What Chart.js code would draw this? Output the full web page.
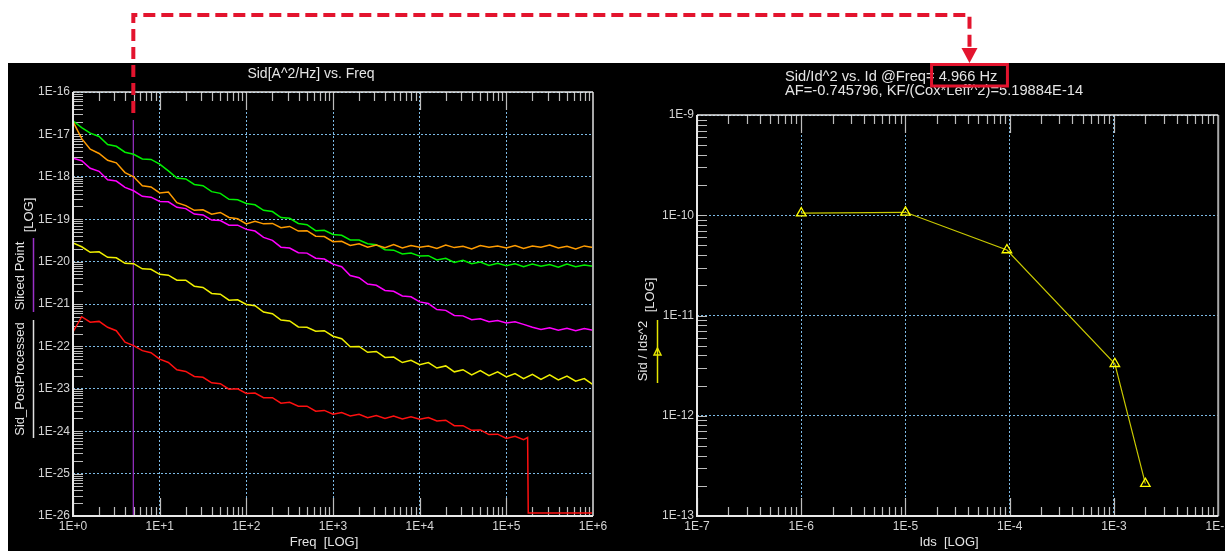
<html>
<head>
  <title>Sid vs Freq</title>
  <script src="https://cdn.jsdelivr.net/npm/chart.js"></script>
  <style>
    body { margin: 0; background: #fff; width: 1225px; height: 551px; position: relative; overflow: hidden; }
    #panel { position: absolute; left: 8px; top: 63px; width: 1217px; height: 488px; background: #000; }
    #leftChart { position: absolute; left: 8px; top: 63px; }
    #rightChart { position: absolute; left: 612px; top: 63px; }
    #overlay { position: absolute; left: 0; top: 0; pointer-events: none; }
  </style>
</head>
<body>
  <div id="panel"></div>
  <canvas id="leftChart" width="604" height="488"></canvas>
  <canvas id="rightChart" width="613" height="488"></canvas>
  <canvas id="overlay" width="1225" height="551"></canvas>

  <script>
// ---- data (spectra are log10 of Sid) ----
const freq = [1, 1.26, 1.58, 2, 2.51, 3.16, 3.98, 5.01, 6.31, 7.94,
  10, 12.6, 15.8, 20, 25.1, 31.6, 39.8, 50.1, 63.1, 79.4,
  100, 126, 158, 200, 251, 316, 398, 501, 631, 794,
  1000, 1260, 1580, 2000, 2510, 3160, 3980, 5010, 6310, 7940,
  1e4, 1.26e4, 1.58e4, 2e4, 2.51e4, 3.16e4, 3.98e4, 5.01e4, 6.31e4, 7.94e4,
  1e5, 1.26e5, 1.58e5, 2e5, 2.51e5, 3.16e5, 3.98e5, 5.01e5, 6.31e5, 7.94e5,
  1e6];

const greenExp = [-16.68, -16.84, -16.97, -17.05, -17.24, -17.28, -17.42, -17.47, -17.58, -17.59,
  -17.70, -17.86, -18.03, -18.05, -18.18, -18.21, -18.35, -18.39, -18.53, -18.54,
  -18.63, -18.66, -18.79, -18.82, -18.96, -18.98, -19.10, -19.13, -19.27, -19.26,
  -19.36, -19.38, -19.49, -19.49, -19.58, -19.60, -19.72, -19.73, -19.82, -19.80,
  -19.87, -19.86, -19.96, -19.92, -20.02, -19.97, -20.05, -20.01, -20.09, -20.04,
  -20.10, -20.05, -20.12, -20.06, -20.11, -20.07, -20.13, -20.06, -20.12, -20.08,
  -20.11];

const orangeExp = [-16.70, -17.10, -17.35, -17.45, -17.61, -17.67, -17.90, -18.00, -18.21, -18.24,
  -18.38, -18.36, -18.61, -18.68, -18.79, -18.78, -18.88, -18.84, -18.96, -18.99,
  -19.11, -19.05, -19.11, -19.10, -19.20, -19.17, -19.28, -19.27, -19.40, -19.41,
  -19.53, -19.52, -19.62, -19.58, -19.66, -19.61, -19.67, -19.60, -19.68, -19.62,
  -19.66, -19.63, -19.69, -19.61, -19.67, -19.64, -19.70, -19.62, -19.66, -19.63,
  -19.68, -19.62, -19.69, -19.63, -19.66, -19.61, -19.68, -19.64, -19.70, -19.63,
  -19.67];

const magentaExp = [-17.56, -17.62, -17.80, -17.87, -18.07, -18.10, -18.25, -18.33, -18.46, -18.48,
  -18.58, -18.59, -18.72, -18.75, -18.88, -18.90, -19.02, -19.03, -19.14, -19.14,
  -19.24, -19.28, -19.43, -19.50, -19.66, -19.68, -19.79, -19.80, -19.92, -19.94,
  -20.06, -20.12, -20.33, -20.38, -20.53, -20.56, -20.68, -20.70, -20.81, -20.83,
  -20.95, -20.99, -21.13, -21.15, -21.27, -21.28, -21.37, -21.35, -21.42, -21.39,
  -21.45, -21.42, -21.48, -21.55, -21.60, -21.56, -21.62, -21.57, -21.63, -21.58,
  -21.62];

const yellowExp = [-19.56, -19.65, -19.78, -19.77, -19.90, -19.91, -20.04, -20.05, -20.17, -20.18,
  -20.30, -20.32, -20.44, -20.44, -20.58, -20.61, -20.75, -20.77, -20.91, -20.90,
  -21.01, -21.04, -21.19, -21.23, -21.38, -21.40, -21.54, -21.55, -21.64, -21.63,
  -21.76, -21.82, -22.01, -22.00, -22.14, -22.12, -22.26, -22.25, -22.38, -22.33,
  -22.43, -22.38, -22.51, -22.46, -22.60, -22.55, -22.67, -22.57, -22.69, -22.60,
  -22.72, -22.64, -22.76, -22.66, -22.78, -22.67, -22.79, -22.70, -22.82, -22.76,
  -22.90];

// red stops at ~1.78E+5 and falls to the floor
const redFreq = [1, 1.26, 1.58, 2, 2.51, 3.16, 3.98, 5.01, 6.31, 7.94,
  10, 12.6, 15.8, 20, 25.1, 31.6, 39.8, 50.1, 63.1, 79.4,
  100, 126, 158, 200, 251, 316, 398, 501, 631, 794,
  1000, 1260, 1580, 2000, 2510, 3160, 3980, 5010, 6310, 7940,
  1e4, 1.26e4, 1.58e4, 2e4, 2.51e4, 3.16e4, 3.98e4, 5.01e4, 6.31e4, 7.94e4,
  1e5, 1.26e5, 1.58e5, 1.76e5, 1.79e5, 2e5, 2.51e5, 3.16e5, 3.98e5, 5.01e5, 6.31e5, 7.94e5,
  1e6];
const redExp = [-21.66, -21.30, -21.43, -21.41, -21.55, -21.63, -21.90, -21.98, -22.10, -22.15,
  -22.30, -22.38, -22.55, -22.59, -22.71, -22.73, -22.86, -22.88, -23.01, -23.00,
  -23.11, -23.10, -23.21, -23.21, -23.34, -23.32, -23.41, -23.41, -23.53, -23.51,
  -23.60, -23.56, -23.64, -23.60, -23.68, -23.63, -23.70, -23.64, -23.71, -23.66,
  -23.72, -23.68, -23.76, -23.74, -23.87, -23.87, -23.98, -23.97, -24.08, -24.07,
  -24.17, -24.12, -24.20, -24.15, -25.93, -25.93, -25.93, -25.93, -25.93, -25.93, -25.93, -25.93,
  -25.93];

const sliceFreq = 4.966;
const sliceSid = [2.2e-17, 1e-26];

// right panel
const idsValues = [1e-6, 1e-5, 9.4e-5, 1.02e-3, 2e-3];
const sidNormValues = [1.05e-10, 1.07e-10, 4.5e-11, 3.3e-12, 2.1e-13];

const FAMILY = '"Liberation Sans", Arial, sans-serif';
const TEXT = '#e4e4e4';
const RED = '#e3142e';

function expLabel(v) {
  const e = Math.round(Math.log10(v));
  return '1E' + (e >= 0 ? '+' + e : e);
}

function decades(lo, hi) {
  const out = [];
  for (let e = lo; e <= hi; e++) out.push({ value: Math.pow(10, e) });
  return out;
}

function logAxis(pos, lo, hi, size) {
  return {
    type: 'logarithmic',
    position: pos,
    min: Math.pow(10, lo),
    max: Math.pow(10, hi),
    afterBuildTicks: s => { s.ticks = decades(lo, hi); },
    afterFit: s => {
      if (pos === 'bottom') { s.height = size; s.paddingLeft = 0; s.paddingRight = 0; }
      else { s.width = size; s.paddingTop = 0; s.paddingBottom = 0; }
    },
    grid: { color: '#7dbbe6', lineWidth: 1, drawTicks: false },
    border: { display: false, dash: [2, 2] },
    ticks: {
      color: '#d4d4d4', font: { family: FAMILY, size: 12 }, padding: 3,
      autoSkip: false, maxRotation: 0, callback: v => expLabel(v)
    }
  };
}

function series(exps, xs, color) {
  return {
    data: exps.map((v, i) => ({ x: xs[i], y: Math.pow(10, v) })),
    borderColor: color, borderWidth: 1.5, pointRadius: 0, tension: 0, fill: false
  };
}

// small inward ticks at 1..9 x 10^n
function drawMinorTicks(chart) {
  const { ctx, chartArea: a, scales: { x, y } } = chart;
  ctx.save();
  ctx.strokeStyle = '#bdbdbd';
  ctx.lineWidth = 1.2;
  ctx.beginPath();
  const x0 = Math.round(Math.log10(x.min)), x1 = Math.round(Math.log10(x.max));
  for (let e = x0; e < x1; e++) {
    for (let m = 1; m <= 9; m++) {
      const px = Math.round(x.getPixelForValue(m * Math.pow(10, e))) + 0.5;
      const len = m === 1 ? 18 : 9;
      ctx.moveTo(px, a.bottom); ctx.lineTo(px, a.bottom - len);
      ctx.moveTo(px, a.top); ctx.lineTo(px, a.top + len);
    }
  }
  const y0 = Math.round(Math.log10(y.min)), y1 = Math.round(Math.log10(y.max));
  for (let e = y0; e < y1; e++) {
    for (let m = 1; m <= 9; m++) {
      const py = Math.round(y.getPixelForValue(m * Math.pow(10, e))) + 0.5;
      ctx.moveTo(a.left, py); ctx.lineTo(a.left + 10, py);
    }
  }
  ctx.stroke();
  ctx.restore();
}

function drawFrame(chart) {
  const { ctx, chartArea: a } = chart;
  ctx.save();
  ctx.lineWidth = 2;
  ctx.strokeStyle = '#a8a8a8';
  ctx.beginPath(); ctx.moveTo(a.right, a.top); ctx.lineTo(a.right, a.bottom); ctx.stroke();
  ctx.strokeStyle = '#e8e8e8';
  ctx.beginPath(); ctx.moveTo(a.left, a.top); ctx.lineTo(a.left, a.bottom); ctx.lineTo(a.right, a.bottom); ctx.stroke();
  ctx.lineWidth = 1.5;
  ctx.beginPath(); ctx.moveTo(a.left, a.top); ctx.lineTo(a.right, a.top); ctx.stroke();
  ctx.restore();
}

function vText(ctx, t, x, y) {
  ctx.save();
  ctx.translate(x, y);
  ctx.rotate(-Math.PI / 2);
  ctx.fillText(t, 0, 0);
  ctx.restore();
}

const leftDeco = {
  id: 'leftDeco',
  beforeDatasetsDraw: drawMinorTicks,
  afterDatasetsDraw: drawFrame,
  afterDraw(chart) {
    const ctx = chart.ctx;
    ctx.save();
    ctx.fillStyle = TEXT;
    ctx.textAlign = 'center';
    ctx.textBaseline = 'middle';
    ctx.font = '14px ' + FAMILY;
    ctx.fillText('Sid[A^2/Hz] vs. Freq', 303, 11);
    ctx.font = '13px ' + FAMILY;
    ctx.fillText('Freq  [LOG]', 316, 479);
    vText(ctx, 'Sid_PostProcessed', 12, 316);
    vText(ctx, 'Sliced Point', 12, 213);
    vText(ctx, '[LOG]', 21, 152);
    ctx.lineWidth = 1.5;
    ctx.strokeStyle = '#e0e0e0';
    ctx.beginPath(); ctx.moveTo(25.5, 257); ctx.lineTo(25.5, 375); ctx.stroke();
    ctx.strokeStyle = '#9b30c8';
    ctx.beginPath(); ctx.moveTo(25.5, 175); ctx.lineTo(25.5, 249); ctx.stroke();
    ctx.restore();
  }
};

const TITLE1 = 'Sid/Id^2 vs. Id @Freq= 4.966 Hz';
const TITLE1_HEAD = 'Sid/Id^2 vs. Id @Freq=';
const TITLE_X = 173;
const TITLE_FONT = '14.7px ' + FAMILY;

function freqBox(ctx) {
  ctx.save();
  ctx.font = TITLE_FONT;
  const x1 = TITLE_X + ctx.measureText(TITLE1_HEAD).width - 3;
  const x2 = TITLE_X + ctx.measureText(TITLE1).width + 10;
  ctx.restore();
  return { x1, x2 };
}

const rightDeco = {
  id: 'rightDeco',
  beforeDatasetsDraw: drawMinorTicks,
  afterDatasetsDraw: drawFrame,
  afterDraw(chart) {
    const ctx = chart.ctx;
    ctx.save();
    ctx.fillStyle = TEXT;
    ctx.textBaseline = 'middle';
    ctx.textAlign = 'left';
    ctx.font = TITLE_FONT;
    ctx.fillText(TITLE1, TITLE_X, 14);
    ctx.fillText('AF=-0.745796, KF/(Cox*Leff^2)=5.19884E-14', TITLE_X, 28);
    const b = freqBox(ctx);
    ctx.strokeStyle = RED;
    ctx.lineWidth = 3;
    ctx.strokeRect(b.x1, 1.5, b.x2 - b.x1, 21.5);

    ctx.textAlign = 'center';
    ctx.font = '13px ' + FAMILY;
    ctx.fillText('Ids  [LOG]', 337, 479);
    vText(ctx, 'Sid / Ids^2', 31, 288);
    vText(ctx, '[LOG]', 38, 232);
    ctx.strokeStyle = '#e6e600';
    ctx.lineWidth = 1.5;
    ctx.beginPath(); ctx.moveTo(45.5, 257); ctx.lineTo(45.5, 320); ctx.stroke();
    ctx.beginPath(); ctx.moveTo(45.5, 285); ctx.lineTo(49, 292); ctx.lineTo(42, 292); ctx.closePath(); ctx.stroke();
    ctx.restore();
  }
};

const leftChart = new Chart(document.getElementById('leftChart'), {
  type: 'line',
  data: {
    datasets: [
      series(redExp, redFreq, '#ff1010'),
      series(yellowExp, freq, '#f0f000'),
      series(magentaExp, freq, '#ff00ff'),
      series(orangeExp, freq, '#ff9c00'),
      series(greenExp, freq, '#00f000'),
      {
        data: sliceSid.map(v => ({ x: sliceFreq, y: v })),
        borderColor: '#9b30c8', borderWidth: 1.2, pointRadius: 0
      }
    ]
  },
  options: {
    responsive: false,
    devicePixelRatio: 1,
    animation: false,
    layout: { padding: { left: 0, top: 29, right: 19, bottom: 0 } },
    plugins: { legend: { display: false }, tooltip: { enabled: false } },
    scales: {
      x: logAxis('bottom', 0, 6, 35),
      y: logAxis('left', -26, -16, 65)
    }
  },
  plugins: [leftDeco]
});

const rightChart = new Chart(document.getElementById('rightChart'), {
  type: 'line',
  data: {
    datasets: [{
      data: idsValues.map((v, i) => ({ x: v, y: sidNormValues[i] })),
      borderColor: '#c8c800', borderWidth: 1.2, tension: 0,
      pointStyle: 'triangle', pointRadius: 5.5, pointBorderColor: '#ffff00',
      pointBackgroundColor: 'rgba(0,0,0,0)', pointBorderWidth: 1.3
    }]
  },
  options: {
    responsive: false,
    devicePixelRatio: 1,
    animation: false,
    layout: { padding: { left: 0, top: 52, right: 6, bottom: 0 } },
    plugins: { legend: { display: false }, tooltip: { enabled: false } },
    scales: {
      x: logAxis('bottom', -7, -2, 35),
      y: logAxis('left', -13, -9, 85)
    }
  },
  plugins: [rightDeco]
});

// dashed arrow from the slice line to the frequency box
function drawArrow() {
  const ov = document.getElementById('overlay');
  const ctx = ov.getContext('2d');
  const lc = document.getElementById('leftChart');
  const rc = document.getElementById('rightChart');
  const sx = lc.offsetLeft + leftChart.scales.x.getPixelForValue(sliceFreq);
  const b = freqBox(rightChart.ctx);
  const ex = rc.offsetLeft + (b.x1 + b.x2) / 2;
  const topY = 15;
  const startY = lc.offsetTop + leftChart.chartArea.top + 21;
  const tipY = rc.offsetTop;
  ctx.strokeStyle = RED;
  ctx.fillStyle = RED;
  ctx.lineWidth = 4;
  ctx.setLineDash([12, 6]);
  ctx.beginPath();
  ctx.moveTo(sx, startY);
  ctx.lineTo(sx, topY);
  ctx.lineTo(ex, topY);
  ctx.lineTo(ex, tipY - 14);
  ctx.stroke();
  ctx.setLineDash([]);
  ctx.beginPath();
  ctx.moveTo(ex - 8, tipY - 15);
  ctx.lineTo(ex + 8, tipY - 15);
  ctx.lineTo(ex, tipY);
  ctx.closePath();
  ctx.fill();
}

drawArrow();
  </script>
</body>
</html>
